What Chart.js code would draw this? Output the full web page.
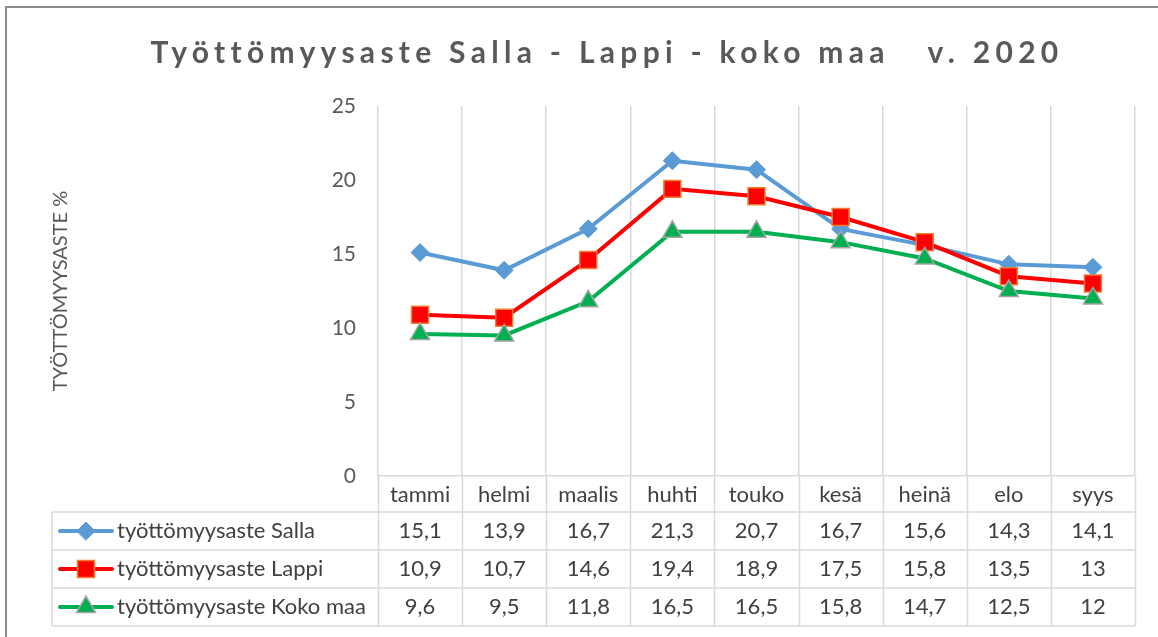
<!DOCTYPE html>
<html lang="fi">
<head>
<meta charset="UTF-8">
<title>Työttömyysaste Salla - Lappi - koko maa v. 2020</title>
<script src="https://cdn.jsdelivr.net/npm/chart.js@4.4.1/dist/chart.umd.min.js"></script>
<style>
  html, body { margin: 0; padding: 0; background: #fff; }
  #wrap { position: relative; width: 1158px; height: 637px; overflow: hidden; }
  #frame { position: absolute; left: 5px; top: 6px; width: 1200px; height: 700px;
           border-left: 2px solid #8c8c8c; border-top: 2px solid #8c8c8c; }
  canvas { position: absolute; left: 0; top: 0; }
</style>
</head>
<body>
<div id="wrap">
  <div id="frame"></div>
  <canvas id="chart" width="1158" height="637"></canvas>
</div>
<script>
// data
const TITLE = 'Työttömyysaste Salla - Lappi - koko maa   v. 2020';
const Y_TITLE = 'TYÖTTÖMYYSASTE %';
const months = ['tammi', 'helmi', 'maalis', 'huhti', 'touko', 'kesä', 'heinä', 'elo', 'syys'];
const salla = [15.1, 13.9, 16.7, 21.3, 20.7, 16.7, 15.6, 14.3, 14.1];
const lappi = [10.9, 10.7, 14.6, 19.4, 18.9, 17.5, 15.8, 13.5, 13];
const kokoMaa = [9.6, 9.5, 11.8, 16.5, 16.5, 15.8, 14.7, 12.5, 12];
const seriesNames = ['työttömyysaste Salla', 'työttömyysaste Lappi', 'työttömyysaste Koko maa'];

const FONT = 'Lato, "Open Sans", sans-serif';
const TEXT = '#404040';
const GRID = '#d9d9d9';

const fmt = v => String(v).replace('.', ',');

// title with letter spacing (chart.js title has no letterSpacing option)
const titlePlugin = {
  id: 'spacedTitle',
  afterDraw(chart) {
    const ctx = chart.ctx;
    ctx.save();
    ctx.font = 'bold 30px ' + FONT;
    ctx.letterSpacing = '5.3px';
    ctx.fillStyle = '#595959';
    ctx.textBaseline = 'alphabetic';
    const w = ctx.measureText(TITLE).width;
    ctx.fillText(TITLE, 607 - w / 2, 63);
    ctx.restore();
  }
};

// data table under the plot, columns follow the x scale
const tablePlugin = {
  id: 'dataTable',
  afterDraw(chart) {
    const { ctx, chartArea, scales: { x } } = chart;
    const ds = chart.data.datasets;
    const rowH = 38;
    const headBottom = x.bottom;
    const tableBottom = headBottom + rowH * ds.length;
    const legendLeft = 52;
    const half = (x.getPixelForValue(1) - x.getPixelForValue(0)) / 2;

    ctx.save();
    ctx.strokeStyle = GRID;
    ctx.lineWidth = 1.5;
    ctx.beginPath();
    // column borders
    for (let i = 0; i <= months.length; i++) {
      const px = Math.round(x.getPixelForValue(0) - half + i * half * 2) + 0.5;
      ctx.moveTo(px, chartArea.bottom);
      ctx.lineTo(px, tableBottom);
    }
    ctx.moveTo(legendLeft, headBottom);
    ctx.lineTo(legendLeft, tableBottom);
    // row borders
    for (let r = 0; r <= ds.length; r++) {
      const py = headBottom + r * rowH;
      ctx.moveTo(legendLeft, py);
      ctx.lineTo(chartArea.right, py);
    }
    ctx.stroke();

    ctx.font = '22px ' + FONT;
    ctx.fillStyle = TEXT;
    ctx.textBaseline = 'middle';
    ds.forEach((d, r) => {
      const cy = headBottom + r * rowH + rowH / 2;
      // legend sample
      ctx.save();
      ctx.strokeStyle = d.borderColor;
      ctx.lineWidth = 4;
      ctx.lineCap = 'round';
      ctx.beginPath();
      ctx.moveTo(60, cy);
      ctx.lineTo(112, cy);
      ctx.stroke();
      ctx.fillStyle = d.pointBackgroundColor;
      ctx.strokeStyle = d.pointBorderColor;
      ctx.lineWidth = d.pointBorderWidth;
      Chart.helpers.drawPoint(ctx, { pointStyle: d.pointStyle, radius: d.pointRadius, borderWidth: d.pointBorderWidth, rotation: 0 }, 86, cy);
      ctx.restore();
      ctx.textAlign = 'left';
      ctx.fillText(d.label, 117, cy);
      ctx.textAlign = 'center';
      d.data.forEach((v, i) => {
        ctx.fillText(fmt(v), x.getPixelForValue(i), cy);
      });
    });
    ctx.restore();
  }
};

new Chart(document.getElementById('chart'), {
  type: 'line',
  data: {
    labels: months,
    datasets: [
      {
        label: seriesNames[0], data: salla, order: 2,
        borderColor: '#5b9bd5', borderWidth: 4,
        pointStyle: 'rectRot', pointRadius: 9,
        pointBackgroundColor: '#5b9bd5', pointBorderColor: '#5b9bd5', pointBorderWidth: 1
      },
      {
        label: seriesNames[1], data: lappi, order: 1,
        borderColor: '#ff0000', borderWidth: 4,
        pointStyle: 'rect', pointRadius: 12,
        pointBackgroundColor: '#ff0000', pointBorderColor: '#ed7d31', pointBorderWidth: 1.5
      },
      {
        label: seriesNames[2], data: kokoMaa, order: 0,
        borderColor: '#00b050', borderWidth: 4,
        pointStyle: 'triangle', pointRadius: 11,
        pointBackgroundColor: '#00b050', pointBorderColor: '#a5a5a5', pointBorderWidth: 1.5
      }
    ]
  },
  options: {
    responsive: false,
    animation: false,
    layout: { padding: { top: 106, left: 40, right: 23, bottom: 125 } },
    elements: { line: { tension: 0 } },
    plugins: {
      legend: { display: false },
      title: { display: false },
      tooltip: { enabled: false }
    },
    scales: {
      x: {
        type: 'category',
        offset: true,
        grid: { offset: true, color: GRID, lineWidth: 1.5, drawTicks: false },
        border: { color: GRID, width: 1.5 },
        ticks: { color: TEXT, font: { family: FONT, size: 22 }, padding: 6 },
        afterFit(scale) { scale.height = 36; }
      },
      y: {
        min: 0, max: 25,
        grid: { display: false, drawTicks: false },
        border: { display: false },
        ticks: { stepSize: 5, color: '#595959', font: { family: FONT, size: 21 }, padding: 22 },
        title: {
          display: true, text: Y_TITLE, color: '#595959',
          font: { family: FONT, size: 20 }, padding: { top: 9, bottom: 0 }
        },
        afterFit(scale) { scale.width = 338; }
      }
    }
  },
  plugins: [titlePlugin, tablePlugin]
});
</script>
</body>
</html>
